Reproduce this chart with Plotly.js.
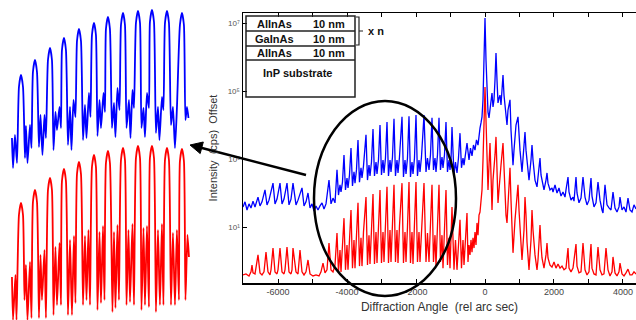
<!DOCTYPE html>
<html><head><meta charset="utf-8">
<script src="https://cdn.plot.ly/plotly-3.0.1.min.js"></script>
<style>html,body{margin:0;padding:0;background:#fff}#chart{width:636px;height:320px}</style>
</head><body><div id="chart"></div>
<script>
// ---- main scan: angle (rel arc sec) and log10(counts, offset) ----
const blueAngle = [-7018,-6960,-6902,-6844,-6786,-6728,-6670,-6583,-6525,-6467,-6380,-6322,-6264,-6148,-6090,-6032,-5945,-5887,-5829,-5742,-5684,-5626,-5568,-5481,-5423,-5307,-5249,-5191,-5133,-5075,-5017,-4959,-4901,-4843,-4785,-4727,-4669,-4611,-4524,-4466,-4408,-4350,-4292,
-4249,-4205,-4176,-4133,-4089,-4046,-4002,-3973,-3930,-3886,-3843,-3799,-3770,-3727,-3683,-3640,-3596,-3567,-3524,-3451,-3408,-3364,-3335,-3292,-3248,-3205,-3161,-3132,-3089,-3045,-3002,-2958,-2929,-2886,-2842,-2799,-2755,-2726,-2683,-2639,-2596,-2552,-2523,-2480,-2407,-2364,-2320,-2291,-2248,-2204,-2161,-2117,-2088,-2045,-2001,-1958,-1914,-1885,-1842,-1769,-1711,-1668,-1624,-1581,-1537,-1494,-1450,-1421,-1378,-1334,-1291,-1247,-1218,-1175,-1131,-1088,-1044,-1015,-986,-957,-899,-856,-812,-769,-725,-682,-638,-609,-566,-522,
-464,-421,-377,-334,-290,-247,-203,-174,-145,-116,-87,-58,-29,0,29,58,87,116,145,174,203,232,261,290,319,348,377,406,435,464,493,522,551,580,609,638,667,725,754,812,841,870,899,957,986,1015,1073,1102,1160,1189,1247,1276,1334,1363,1392,1450,1508,1566,1595,1624,1682,1711,1769,1798,1827,1885,1943,1972,2030,2088,2146,2204,2262,2320,2349,2407,2436,2494,2552,2581,2639,2668,2726,2784,2842,2900,2958,3016,3074,3103,3161,3219,3277,3335,3393,3422,3480,3538,3596,3654,3712,3770,3828,3886,3915,3973,4031,4089,4147,4205,4263,4321,4379];
const blueLogCounts = [1.59,1.74,1.50,1.68,1.56,1.76,1.59,1.88,1.62,1.74,2.09,1.65,1.79,2.29,1.68,1.82,2.29,1.68,1.82,2.29,1.65,1.82,2.29,1.65,1.79,2.15,1.62,1.74,2.00,1.56,1.68,1.47,1.62,1.50,1.62,1.71,1.53,1.68,2.38,1.68,1.85,1.71,2.68,
1.94,2.24,2.03,2.32, 3.12,2.09,2.44,2.15,2.53, 3.32,2.21,2.62,2.29,2.68, 3.56,2.32,2.74,2.44,2.79, 3.71,2.38,2.82,2.50,2.91, 3.88,2.50,2.91,2.56,2.97, 4.00,2.53,2.97,2.59,3.03, 4.09,2.50,2.97,2.62,3.06, 4.18,2.50,2.97,2.59,3.06, 4.24,2.47,2.97,2.56,3.03, 4.26,2.47,2.91,2.56,3.03, 4.29,2.50,2.97,2.62,3.06, 4.29,2.62,3.03,2.68,3.12, 4.21,2.68,3.03,2.62,3.12, 4.21,2.68,3.06,2.74,3.12, 4.09,2.62,2.97,2.68,2.97, 3.94,2.53,2.91,2.59,3.03, 3.76,2.74,3.03,2.82,3.21, 3.47,
2.97,3.32,3.09,3.41,3.26,3.56,3.41,3.76,3.91,4.06,4.24,4.74,5.91,7.15,5.91,4.74,4.38,4.21,4.44,4.65,4.94,4.53,4.74,5.32,6.12,5.32,4.65,4.79,4.88,4.59,5.03,5.47,4.88,4.59,4.29,4.00,4.44,4.74,3.85,2.82,3.26,3.56,4.00,4.24,3.71,3.26,2.62,2.97,3.79,3.26,2.53,2.38,2.97,3.41,2.97,2.38,2.18,2.68,3.03,2.53,2.24,2.09,2.38,2.59,2.29,2.09,2.15,2.03,2.24,2.00,2.15,1.91,2.03,1.88,2.09,2.47,2.03,1.79,1.88,1.76,2.47,2.00,1.71,1.85,2.47,1.88,1.65,1.79,2.44,1.91,1.59,1.71,2.32,1.79,1.50,1.41,2.24,1.65,1.56,1.50,2.03,1.56,1.44,1.59,1.88,1.50,1.59,1.44,1.85,1.50,1.44,1.65,1.53];

const redAngle = [-7018,-6931,-6844,-6786,-6757,-6728,-6670,-6583,-6525,-6467,-6409,-6351,-6293,-6235,-6206,-6148,-6090,-6032,-6003,-5945,-5887,-5829,-5800,-5742,-5684,-5626,-5597,-5568,-5481,-5423,-5365,-5307,-5249,-5191,-5133,-5075,-4988,-4901,-4814,-4756,-4698,-4640,-4582,-4524,-4466,-4408,-4350,-4292,
-4249,-4205,-4176,-4133,-4089,-4046,-4002,-3973,-3930,-3886,-3843,-3799,-3770,-3727,-3683,-3640,-3596,-3567,-3524,-3451,-3408,-3364,-3335,-3292,-3248,-3205,-3161,-3132,-3089,-3045,-3002,-2958,-2929,-2886,-2842,-2799,-2755,-2726,-2683,-2639,-2596,-2552,-2523,-2480,-2407,-2364,-2320,-2291,-2248,-2204,-2161,-2117,-2088,-2045,-2001,-1958,-1914,-1885,-1842,-1769,-1711,-1668,-1624,-1581,-1537,-1494,-1450,-1421,-1378,-1334,-1291,-1247,-1218,-1175,-1131,-1088,-1044,-1015,-986,-957,-899,-856,-812,-769,-725,-682,-638,-609,-566,-522,
-493,-464,-435,-406,-377,-348,-319,-290,-261,-232,-203,-174,-145,-116,-87,-58,-29,0,29,58,87,116,145,174,203,232,261,290,319,348,377,406,435,464,522,551,580,609,638,667,725,754,783,812,870,928,957,986,1015,1073,1131,1160,1189,1218,1276,1305,1334,1363,1392,1450,1508,1537,1595,1624,1653,1711,1769,1798,1827,1885,1943,2001,2059,2117,2175,2233,2291,2349,2407,2436,2494,2552,2639,2668,2726,2784,2842,2900,2958,3016,3074,3103,3161,3219,3277,3335,3393,3451,3509,3567,3625,3683,3712,3770,3828,3886,3915,3973,4031,4089,4147,4205,4263,4321,4379];
const redLogCounts = [-0.41,-0.38,-0.44,-0.32,-0.12,-0.35,-0.38,0.18,-0.35,-0.41,-0.32,0.26,-0.32,-0.41,-0.26,0.38,-0.32,-0.38,-0.26,0.38,-0.32,-0.38,-0.26,0.41,-0.32,-0.38,-0.26,0.38,-0.32,-0.38,0.32,-0.32,-0.41,-0.32,0.03,-0.38,-0.44,-0.41,-0.44,-0.32,-0.06,-0.35,-0.26,0.53,-0.26,-0.32,-0.12,0.82,
-0.32,0.32,-0.32,0.47, 1.26,-0.26,0.47,-0.26,0.62, 1.50,-0.21,0.62,-0.21,0.74, 1.71,-0.15,0.68,-0.15,0.85, 1.88,-0.12,0.76,-0.09,0.91, 1.97,-0.09,0.85,-0.06,0.97, 2.09,-0.06,0.85,-0.03,0.97, 2.18,-0.06,0.91,-0.03,1.03, 2.24,-0.03,0.91,-0.06,1.03, 2.29,-0.06,0.85,-0.03,1.00, 2.32,-0.06,0.85,-0.09,0.97, 2.32,-0.03,0.85,-0.03,0.97, 2.29,-0.03,0.82,-0.03,0.97, 2.24,-0.03,0.76,-0.15,0.85, 2.24,-0.03,0.76,-0.21,0.82, 2.09,-0.12,0.68,-0.21,0.74, 1.59,-0.26,0.62,-0.26,0.68, 1.21,-0.21,0.62,-0.12,0.76, 1.41,
-0.03,0.47,0.18,0.62,0.26,0.68,0.38,0.85,0.47,1.12,0.76,1.35,1.44,1.79,2.09,2.97,4.15,5.12,4.15,3.26,2.09,2.82,3.47,2.53,1.50,2.38,2.68,3.12,3.65,2.82,1.71,2.09,2.38,2.82,3.47,2.68,1.79,1.35,1.12,1.79,2.74,1.79,0.91,0.24,1.21,1.94,2.24,1.50,0.85,0.03,0.91,1.88,1.35,0.56,-0.26,0.18,0.62,1.50,0.91,0.18,-0.26,0.03,1.06,0.47,0.09,-0.21,0.18,0.53,0.09,-0.12,-0.18,-0.03,-0.21,-0.09,-0.21,-0.15,-0.26,-0.21,0.38,-0.21,-0.32,-0.21,0.50,-0.15,-0.35,-0.32,0.53,-0.26,-0.41,-0.32,0.50,-0.21,-0.38,-0.41,0.41,-0.26,-0.41,-0.38,0.38,-0.26,-0.44,-0.32,0.12,-0.35,-0.44,-0.32,-0.06,-0.38,-0.44,-0.35,-0.24,-0.41,-0.41,-0.32,-0.38];

// ---- magnified inset (linear, relative units) ----
const insetBlueAngle = [-3909,-3894,-3866,-3837,-3809,-3780,-3751,-3723,-3709,-3687,-3651,-3630,-3609,-3580,-3551,-3523,-3501,-3473,-3444,-3423,-3394,-3365,-3337,-3315,-3287,-3265,-3229,-3208,-3194,-3165,-3137,-3108,-3079,-3058,-3029,-3001,-2979,-2951,-2922,-2893,-2865,-2843,-2808,-2786,-2765,-2736,-2708,-2686,-2657,-2636,-2600,-2579,-2565,-2536,-2508,-2479,-2450,-2429,-2400,-2371,-2350,-2321,-2293,-2271,-2236,-2214,-2186,-2164,-2136,-2107,-2078,-2057,-2028,-2007,-1978,-1950,-1936,-1907,-1878,-1850,-1821,-1800,-1764,-1743,-1721,-1692,-1664,-1635,-1607,-1578,-1550,-1507,-1478,-1450,-1428,-1406,-1385];
const insetBlueRel = [32,2,35,7,83,95,83,12,44,7,45,22,98,110,98,23,55,15,55,32,110,122,110,20,58,40,63,42,120,132,120,25,63,20,70,53,129,141,129,30,65,32,77,53,135,147,135,34,70,42,77,58,141,153,141,42,67,33,82,60,145,157,145,42,70,32,80,62,147,159,147,42,62,33,77,62,148,160,148,37,63,30,73,60,147,159,147,45,63,22,62,145,157,145,50,63,52];
const insetRedAngle = [-3909,-3894,-3859,-3844,-3809,-3780,-3751,-3730,-3709,-3687,-3651,-3630,-3609,-3580,-3551,-3523,-3501,-3480,-3444,-3423,-3394,-3365,-3337,-3315,-3287,-3265,-3229,-3208,-3194,-3165,-3137,-3108,-3079,-3051,-3022,-3001,-2979,-2951,-2922,-2893,-2865,-2843,-2815,-2793,-2765,-2736,-2708,-2686,-2657,-2636,-2607,-2586,-2565,-2536,-2508,-2472,-2450,-2429,-2400,-2379,-2350,-2321,-2293,-2271,-2243,-2221,-2186,-2164,-2136,-2107,-2078,-2057,-2028,-2007,-1978,-1950,-1936,-1907,-1878,-1850,-1821,-1793,-1764,-1743,-1721,-1692,-1664,-1635,-1607,-1578,-1550,-1521,-1507,-1478,-1450,-1428,-1399,-1378];
const insetRedRel = [43,0,45,0,105,117,105,20,55,0,58,2,118,130,118,2,65,20,70,2,130,142,130,5,73,15,77,15,139,151,139,5,80,5,84,17,146,158,146,15,84,20,90,15,153,165,153,10,88,17,94,20,157,169,157,8,88,12,95,20,160,172,160,15,90,18,96,15,162,174,162,10,92,15,94,13,162,174,162,8,90,15,96,15,160,172,160,15,87,15,90,20,159,171,159,20,85,63];

// ---- axis ticks and texts ----
const xTickVals = [-6000,-4000,-2000,0,2000,4000];
const xTickText = ['-6000','-4000','-2000','0','2000','4000'];
const yTickVals = [1e1,1e3,1e5,1e7];
const yTickText = ['10\u00B9','10\u00B3','10\u2075','10\u2077'];
const layerRows = [['AlInAs','10 nm'],['GaInAs','10 nm'],['AlInAs','10 nm']];

const W = 636, H = 320;
const px = x => x / W, py = y => 1 - y / H;
const toCounts = a => a.map(v => Math.pow(10, v));

const traces = [
  {x: blueAngle, y: toCounts(blueLogCounts), xaxis:'x', yaxis:'y', mode:'lines', line:{color:'#0000ff', width:1.3}, hoverinfo:'skip'},
  {x: redAngle, y: toCounts(redLogCounts), xaxis:'x', yaxis:'y', mode:'lines', line:{color:'#ff0000', width:1.3}, hoverinfo:'skip'},
  {x: insetBlueAngle, y: insetBlueRel, xaxis:'x2', yaxis:'y2', mode:'lines', line:{color:'#0000ff', width:1.8, shape:'spline', smoothing:0.6}, hoverinfo:'skip'},
  {x: insetRedAngle, y: insetRedRel, xaxis:'x3', yaxis:'y3', mode:'lines', line:{color:'#ff0000', width:1.8, shape:'spline', smoothing:0.6}, hoverinfo:'skip'}
];

const annotations = [];
const bold = {family:'Liberation Sans, Arial, sans-serif', size:11, color:'#111', weight:'bold'};
const rowY = [23.5, 38.5, 52.5];
layerRows.forEach((r, i) => {
  annotations.push({xref:'paper', yref:'paper', x:px(274), y:py(rowY[i]), text:r[0], showarrow:false, font:bold, xanchor:'center', yanchor:'middle'});
  annotations.push({xref:'paper', yref:'paper', x:px(329), y:py(rowY[i]), text:r[1], showarrow:false, font:bold, xanchor:'center', yanchor:'middle'});
});
annotations.push({xref:'paper', yref:'paper', x:px(298), y:py(73), text:'InP substrate', showarrow:false, font:bold, xanchor:'center', yanchor:'middle'});
annotations.push({xref:'paper', yref:'paper', x:px(366), y:py(31), text:'x n', showarrow:false, font:bold, xanchor:'left', yanchor:'middle'});

const ln = {color:'#222', width:1.5};
const P = (x, y) => `${px(x)},${py(y)}`;
const shapes = [
  {type:'rect', xref:'paper', yref:'paper', x0:px(246), x1:px(355), y0:py(97), y1:py(16), line:ln, fillcolor:'rgba(255,255,255,0)'},
  {type:'line', xref:'paper', yref:'paper', x0:px(246), x1:px(355), y0:py(31), y1:py(31), line:ln},
  {type:'line', xref:'paper', yref:'paper', x0:px(246), x1:px(355), y0:py(46), y1:py(46), line:ln},
  {type:'line', xref:'paper', yref:'paper', x0:px(246), x1:px(355), y0:py(60), y1:py(60), line:ln},
  {type:'path', xref:'paper', yref:'paper', path:`M ${P(356,17)} L ${P(359,17)} L ${P(359,45)} L ${P(356,45)} M ${P(359,31)} L ${P(363,31)}`, line:{color:'#222', width:1.2}},
  {type:'circle', xref:'paper', yref:'paper', x0:px(314), x1:px(456), y0:py(296), y1:py(101), line:{color:'#000', width:2.5}},
  // arrow pointing to the magnified inset
  {type:'line', xref:'paper', yref:'paper', x0:px(306), y0:py(175), x1:px(200), y1:py(147.5), line:{color:'#000', width:2.5}},
  {type:'path', xref:'paper', yref:'paper', path:`M ${P(190,145)} L ${P(200.2,153.6)} L ${P(203.3,142.0)} Z`, fillcolor:'#000', line:{color:'#000', width:1}}
];

const layout = {
  width: W, height: H,
  margin: {l:0, r:0, t:0, b:0},
  paper_bgcolor:'#fff', plot_bgcolor:'rgba(0,0,0,0)',
  showlegend:false,
  font:{family:'Liberation Sans, Arial, sans-serif'},
  xaxis: {domain:[px(243), 1], range:[-7018, 4379], anchor:'y', tickmode:'array', tickvals:xTickVals, ticktext:xTickText,
    ticks:'inside', ticklen:4, tickcolor:'#000', showline:true, linecolor:'#000', linewidth:1.5, mirror:'ticks',
    minor:{tickmode:'linear', tick0:0, dtick:1000, ticks:'inside', ticklen:4, tickcolor:'#000', showgrid:false},
    showgrid:false, zeroline:false, tickfont:{size:9, color:'#444'},
    title:{text:'Diffraction Angle  (rel arc sec)', font:{size:12, color:'#333'}, standoff:6}},
  yaxis: {domain:[1-283/H, 1-13/H], type:'log', range:[-0.647, 7.294], anchor:'x', tickmode:'array', tickvals:yTickVals, ticktext:yTickText,
    ticks:'inside', ticklen:4, tickcolor:'#000', showline:true, linecolor:'#000', linewidth:1.5,
    showgrid:false, zeroline:false, tickfont:{size:8, color:'#555'},
    title:{text:'Intensity  (cps)  Offset', font:{size:11, color:'#333'}, standoff:8}},
  xaxis2: {domain:[0, px(200)], range:[-4080, -1220], anchor:'y2', visible:false},
  yaxis2: {domain:[1-170/H, 1-5/H], range:[0, 165], anchor:'x2', visible:false},
  xaxis3: {domain:[0, px(200)], range:[-4080, -1220], anchor:'y3', visible:false},
  yaxis3: {domain:[0, 1-140/H], range:[0, 180], anchor:'x3', visible:false},
  annotations: annotations,
  shapes: shapes
};

Plotly.newPlot('chart', traces, layout, {staticPlot:true, displayModeBar:false}).then(gd => {
  // drop empty placeholder text nodes created for the hidden inset axes
  gd.querySelectorAll('text').forEach(t => { if (!t.textContent.trim()) t.remove(); });
});
</script>
</body></html>
